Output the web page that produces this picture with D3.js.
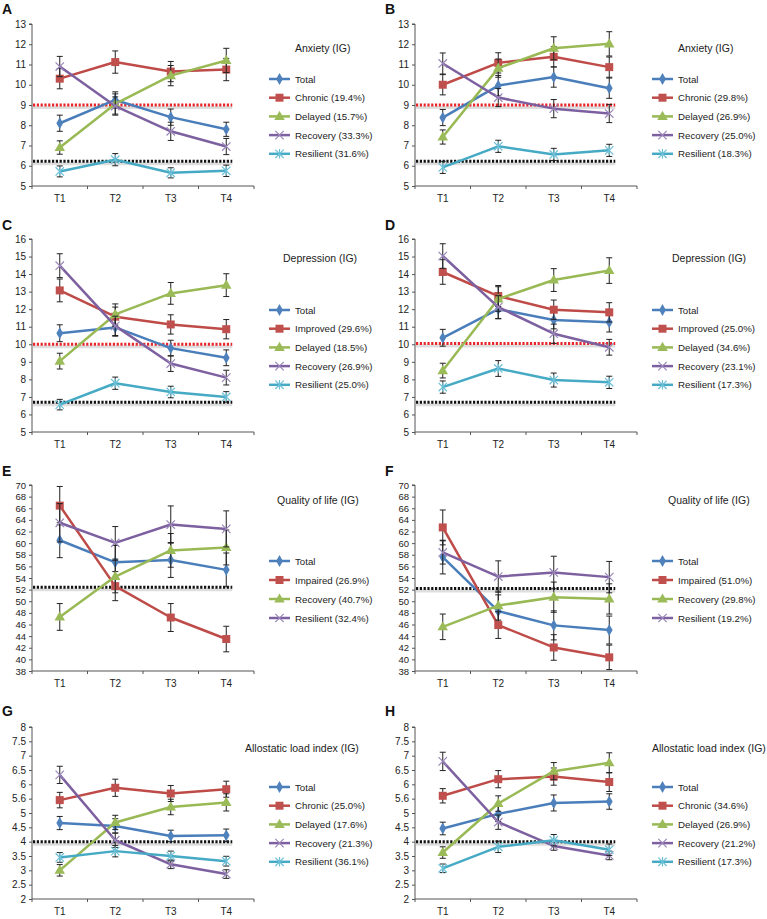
<!DOCTYPE html>
<html><head><meta charset="utf-8">
<script src="https://cdn.jsdelivr.net/npm/d3@7"></script>
<style>body{margin:0;background:#fff} svg{display:block;font-family:"Liberation Sans",Arial,sans-serif}</style>
</head><body><svg id="c" width="767" height="919"></svg>
<script>
const timepoints = ["T1","T2","T3","T4"];

// ---- Panel A : Anxiety (IG)
const panelA_series = ["Total","Chronic (19.4%)","Delayed (15.7%)","Recovery (33.3%)","Resilient (31.6%)"];
const panelA_values = [[8.1,9.25,8.4,7.8],[10.3,11.12,10.65,10.75],[6.9,9.05,10.45,11.2],[10.9,8.95,7.7,6.95],[5.72,6.3,5.65,5.75]];
const panelA_errors = [[0.4,0.4,0.4,0.35],[0.5,0.55,0.5,0.55],[0.33,0.5,0.5,0.6],[0.5,0.45,0.45,0.4],[0.27,0.3,0.25,0.28]];
const panelA_yTicks = [5,6,7,8,9,10,11,12,13];
const panelA_redRef = [9.0];
const panelA_blackRef = [6.22];

// ---- Panel B : Anxiety (IG)
const panelB_series = ["Total","Chronic (29.8%)","Delayed (26.9%)","Recovery (25.0%)","Resilient (18.3%)"];
const panelB_values = [[8.38,9.96,10.38,9.83],[10.0,11.08,11.38,10.87],[7.42,10.82,11.8,12.02],[11.05,9.37,8.82,8.58],[5.92,6.96,6.56,6.76]];
const panelB_errors = [[0.4,0.5,0.5,0.5],[0.5,0.5,0.5,0.5],[0.35,0.45,0.57,0.6],[0.52,0.45,0.45,0.45],[0.3,0.3,0.3,0.3]];
const panelB_yTicks = [5,6,7,8,9,10,11,12,13];
const panelB_redRef = [9.0];
const panelB_blackRef = [6.22];

// ---- Panel C : Depression (IG)
const panelC_series = ["Total","Improved (29.6%)","Delayed (18.5%)","Recovery (26.9%)","Resilient (25.0%)"];
const panelC_values = [[10.63,10.96,9.78,9.23],[13.07,11.57,11.13,10.86],[9.04,11.7,12.9,13.37],[14.48,11.05,8.9,8.1],[6.56,7.78,7.28,7.0]];
const panelC_errors = [[0.48,0.5,0.45,0.45],[0.65,0.55,0.55,0.55],[0.45,0.6,0.62,0.65],[0.68,0.55,0.45,0.42],[0.3,0.35,0.33,0.3]];
const panelC_yTicks = [5,6,7,8,9,10,11,12,13,14,15,16];
const panelC_redRef = [10.0];
const panelC_blackRef = [6.7];

// ---- Panel D : Depression (IG)
const panelD_series = ["Total","Improved (25.0%)","Delayed (34.6%)","Recovery (23.1%)","Resilient (17.3%)"];
const panelD_values = [[10.37,12.0,11.38,11.25],[14.12,12.75,11.97,11.82],[8.5,12.58,13.66,14.2],[15.03,12.12,10.6,9.83],[7.56,8.62,7.96,7.83]];
const panelD_errors = [[0.48,0.55,0.5,0.55],[0.7,0.6,0.55,0.55],[0.42,0.7,0.65,0.73],[0.7,0.65,0.55,0.45],[0.35,0.45,0.4,0.35]];
const panelD_yTicks = [5,6,7,8,9,10,11,12,13,14,15,16];
const panelD_redRef = [10.05];
const panelD_blackRef = [6.7];

// ---- Panel E : Quality of life (IG)
const panelE_series = ["Total","Impaired (26.9%)","Recovery (40.7%)","Resilient (32.4%)"];
const panelE_values = [[60.5,56.7,57.1,55.4],[66.45,52.6,47.2,43.5],[47.3,54.25,58.75,59.25],[63.5,60.05,63.2,62.45]];
const panelE_errors = [[3.0,2.9,3.0,2.9],[3.3,2.5,2.4,2.2],[2.3,2.8,2.9,3.0],[3.3,2.8,3.2,3.1]];
const panelE_yTicks = [38,40,42,44,46,48,50,52,54,56,58,60,62,64,66,68,70];
const panelE_redRef = [];
const panelE_blackRef = [52.4];

// ---- Panel F : Quality of life (IG)
const panelF_series = ["Total","Impaired (51.0%)","Recovery (29.8%)","Resilient (19.2%)"];
const panelF_values = [[57.6,48.3,45.85,45.05],[62.7,45.9,42.05,40.35],[45.6,49.25,50.7,50.4],[58.4,54.25,54.95,54.15]];
const panelF_errors = [[2.9,2.8,2.5,2.4],[3.0,2.3,2.2,2.1],[2.2,2.5,2.6,2.6],[2.0,2.7,2.8,2.7]];
const panelF_yTicks = [38,40,42,44,46,48,50,52,54,56,58,60,62,64,66,68,70];
const panelF_redRef = [];
const panelF_blackRef = [52.2];

// ---- Panel G : Allostatic load index (IG)
const panelG_series = ["Total","Chronic (25.0%)","Delayed (17.6%)","Recovery (21.3%)","Resilient (36.1%)"];
const panelG_values = [[4.65,4.55,4.2,4.22],[5.45,5.88,5.68,5.83],[3.0,4.67,5.21,5.37],[6.33,4.05,3.21,2.87],[3.45,3.67,3.5,3.32]];
const panelG_errors = [[0.23,0.25,0.2,0.22],[0.27,0.3,0.28,0.28],[0.2,0.25,0.27,0.3],[0.3,0.25,0.15,0.15],[0.17,0.2,0.17,0.17]];
const panelG_yTicks = [2,2.5,3,3.5,4,4.5,5,5.5,6,6.5,7,7.5,8];
const panelG_yTickLabels = ["2","2.5","3","3.5","4","4.5","5","5.6","6","6.5","7","7.5","8"];
const panelG_redRef = [];
const panelG_blackRef = [4.0];

// ---- Panel H : Allostatic load index (IG)
const panelH_series = ["Total","Chronic (34.6%)","Delayed (26.9%)","Recovery (21.2%)","Resilient (17.3%)"];
const panelH_values = [[4.46,4.97,5.35,5.4],[5.6,6.18,6.27,6.08],[3.62,5.33,6.46,6.75],[6.8,4.68,3.85,3.52],[3.07,3.82,4.05,3.72]];
const panelH_errors = [[0.22,0.27,0.28,0.27],[0.25,0.3,0.3,0.33],[0.2,0.27,0.3,0.35],[0.32,0.25,0.15,0.15],[0.15,0.2,0.2,0.2]];
const panelH_yTicks = [2,2.5,3,3.5,4,4.5,5,5.5,6,6.5,7,7.5,8];
const panelH_yTickLabels = ["2","2.5","3","3.5","4","4.5","5","5.6","6","6.5","7","7.5","8"];
const panelH_redRef = [];
const panelH_blackRef = [4.0];

const panelLetters = ["A","B","C","D","E","F","G","H"];
const panelTitles = ["Anxiety (IG)","Anxiety (IG)","Depression (IG)","Depression (IG)","Quality of life (IG)","Quality of life (IG)","Allostatic load index (IG)","Allostatic load index (IG)"];

// ---------- build ----------
const panels = [
  {s:panelA_series,v:panelA_values,e:panelA_errors,t:panelA_yTicks,tl:null,rr:panelA_redRef,br:panelA_blackRef},
  {s:panelB_series,v:panelB_values,e:panelB_errors,t:panelB_yTicks,tl:null,rr:panelB_redRef,br:panelB_blackRef},
  {s:panelC_series,v:panelC_values,e:panelC_errors,t:panelC_yTicks,tl:null,rr:panelC_redRef,br:panelC_blackRef},
  {s:panelD_series,v:panelD_values,e:panelD_errors,t:panelD_yTicks,tl:null,rr:panelD_redRef,br:panelD_blackRef},
  {s:panelE_series,v:panelE_values,e:panelE_errors,t:panelE_yTicks,tl:null,rr:panelE_redRef,br:panelE_blackRef},
  {s:panelF_series,v:panelF_values,e:panelF_errors,t:panelF_yTicks,tl:null,rr:panelF_redRef,br:panelF_blackRef},
  {s:panelG_series,v:panelG_values,e:panelG_errors,t:panelG_yTicks,tl:panelG_yTickLabels,rr:panelG_redRef,br:panelG_blackRef},
  {s:panelH_series,v:panelH_values,e:panelH_errors,t:panelH_yTicks,tl:panelH_yTickLabels,rr:panelH_redRef,br:panelH_blackRef}
];

// layout (positions only)
const colX = [0, 383];
const rows = [
  {top:24,  bottom:186, letterY:13.5, titleY:52,  legY:79,  legDy:18.7, fs:10},
  {top:239, bottom:432, letterY:230,  titleY:262, legY:310, legDy:18.7, fs:10},
  {top:485, bottom:671, letterY:476,  titleY:504, legY:561, legDy:19,   fs:9.5},
  {top:727, bottom:899, letterY:716,  titleY:752, legY:787, legDy:18.7, fs:10}
];
const titleX = [295,295,283,289,277,285,245,269];

const lineColors5 = ["#4a7ebb","#be4b48","#98b954","#7d60a0","#46aac5"];
const markerColors5 = ["#4f81bd","#c0504d","#9bbb59","#9a86b8","#6cc0d8"];
const markerTypes5 = ["diamond","square","triangle","x","star"];

const svg = d3.select("#c");

function drawMarker(g, type, color, x, y) {
  if (type === "diamond") {
    g.append("path").attr("d", d3.symbol(d3.symbolDiamond, 40)()).attr("transform",`translate(${x},${y})`).attr("fill",color);
  } else if (type === "square") {
    g.append("path").attr("d", d3.symbol(d3.symbolSquare, 64)()).attr("transform",`translate(${x},${y})`).attr("fill",color);
  } else if (type === "triangle") {
    g.append("path").attr("d", d3.symbol(d3.symbolTriangle, 48)()).attr("transform",`translate(${x},${y+0.5})`).attr("fill",color);
  } else if (type === "x") {
    const r = 4.2;
    g.append("path").attr("d",`M${x-r},${y-r}L${x+r},${y+r}M${x-r},${y+r}L${x+r},${y-r}`).attr("stroke",color).attr("stroke-width",1.2).attr("fill","none");
  } else {
    const r = 4.2;
    g.append("path").attr("d",`M${x-r},${y-r}L${x+r},${y+r}M${x-r},${y+r}L${x+r},${y-r}M${x},${y-r-0.5}L${x},${y+r+0.5}`).attr("stroke",color).attr("stroke-width",1.2).attr("fill","none");
  }
}

panels.forEach((p, i) => {
  const ox = colX[i % 2];
  const row = rows[Math.floor(i / 2)];
  const g = svg.append("g").attr("transform", `translate(${ox},0)`);

  const x = d3.scaleBand().domain(timepoints).range([32, 254]).padding(0);
  const xc = t => x(t) + x.bandwidth() / 2;
  const y = d3.scaleLinear().domain([d3.min(p.t), d3.max(p.t)]).range([row.bottom, row.top]);

  // letter
  g.append("text").attr("x", 2).attr("y", row.letterY).text(panelLetters[i])
    .attr("font-size", 14).attr("font-weight", "bold").attr("fill", "#111");

  // y axis
  const ya = d3.axisLeft(y).tickValues(p.t).tickSize(3).tickPadding(3)
    .tickFormat((d, k) => p.tl ? p.tl[k] : d3.format("d")(d));
  const yag = g.append("g").attr("transform", "translate(32,0)").call(ya);
  yag.selectAll("path,line").attr("stroke", "#555").attr("stroke-width", 1);
  yag.select(".domain").attr("d", `M-3,${row.top}H0V${row.bottom}`);
  yag.selectAll("text").attr("font-size", row.fs).attr("fill", "#222").attr("font-family", "Liberation Sans, Arial, sans-serif");

  // x axis
  const xag = g.append("g").attr("transform", `translate(0,${row.bottom})`).call(d3.axisBottom(x).tickSize(0).tickPadding(9));
  xag.select(".domain").attr("stroke", "#555").attr("d", "M32,0H254");
  xag.selectAll("text").attr("font-size", 10).attr("fill", "#222").attr("font-family", "Liberation Sans, Arial, sans-serif");
  const bounds = timepoints.map(t => x(t)).concat([x(timepoints[timepoints.length - 1]) + x.bandwidth()]);
  xag.selectAll(".bt").data(bounds).enter().append("line").attr("class", "bt")
    .attr("x1", d => d).attr("x2", d => d).attr("y1", 0).attr("y2", 3).attr("stroke", "#555");

  // reference lines
  const rx1 = 33, rx2 = xc(timepoints[3]) + 6;
  const refs = p.rr.map(v => ({v, c: "#e8262a"})).concat(p.br.map(v => ({v, c: "#111"})));
  refs.forEach(r => {
    g.append("line").attr("x1", rx1).attr("x2", rx2).attr("y1", y(r.v) + 2.5).attr("y2", y(r.v) + 2.5)
      .attr("stroke", "#dedede").attr("stroke-width", 3);
    g.append("line").attr("x1", rx1).attr("x2", rx2).attr("y1", y(r.v)).attr("y2", y(r.v))
      .attr("stroke", r.c).attr("stroke-width", 3).attr("stroke-dasharray", "2.2,1.6");
  });

  // series
  p.s.forEach((name, si) => {
    const st = si;
    const vals = p.v[si], errs = p.e[si];
    const sg = g.append("g");
    // error bars
    vals.forEach((v, k) => {
      const cx = xc(timepoints[k]);
      const y1 = y(v + errs[k]), y2 = y(v - errs[k]);
      sg.append("path").attr("d", `M${cx},${y1}V${y2}M${cx - 3},${y1}H${cx + 3}M${cx - 3},${y2}H${cx + 3}`)
        .attr("stroke", "#222").attr("stroke-width", 1).attr("fill", "none");
    });
    const line = d3.line().x((d, k) => xc(timepoints[k])).y(d => y(d));
    sg.append("path").attr("d", line(vals)).attr("fill", "none").attr("stroke", lineColors5[st]).attr("stroke-width", 2.5).attr("stroke-linejoin", "round");
    vals.forEach((v, k) => drawMarker(sg, markerTypes5[st], markerColors5[st], xc(timepoints[k]), y(v)));

    // legend
    const ly = row.legY + si * row.legDy;
    g.append("line").attr("x1", 269).attr("x2", 290).attr("y1", ly).attr("y2", ly).attr("stroke", lineColors5[st]).attr("stroke-width", 2.5);
    drawMarker(g, markerTypes5[st], markerColors5[st], 279.5, ly);
    g.append("text").attr("x", 295).attr("y", ly + 3.5).text(name).attr("font-size", 9.7).attr("fill", "#222");
  });

  // title
  g.append("text").attr("x", titleX[i]).attr("y", row.titleY).text(panelTitles[i]).attr("font-size", 10.5).attr("fill", "#222");
});
</script></body></html>
